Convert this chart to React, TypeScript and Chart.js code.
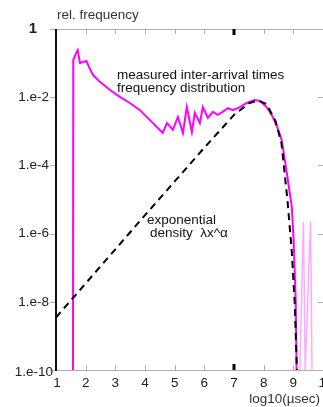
import React, { useEffect, useRef } from "react";
import { Chart, registerables } from "chart.js";

Chart.register(...registerables);

// x axis ticks (log10 of interval) and y-axis decades
const xTicks = [1, 2, 3, 4, 5, 6, 7, 8, 9, 10];
const xTickLabels = ["1", "2", "3", "4", "5", "6", "7", "8", "9", "10"];
const yTickLogs = [0, -2, -4, -6, -8, -10];
const yTickLabels = ["1", "1.e-2", "1.e-4", "1.e-6", "1.e-8", "1.e-10"];

// measured inter-arrival time frequency distribution (x, log10 freq)
const measuredX = [1.572, 1.582, 1.697, 1.731, 1.81, 1.91, 2.03, 2.11, 2.25, 2.48, 2.82, 3.15, 3.49, 3.83, 4.27, 4.5, 4.6, 4.74, 4.94, 5.11, 5.28, 5.41, 5.58, 5.68, 5.85, 5.95, 6.12, 6.29, 6.45, 6.62, 6.79, 6.96, 7.2, 7.43, 7.7, 7.87, 8.1, 8.31, 8.47, 8.61, 8.78, 8.95, 9.01, 9.08, 9.11];
const measuredLog = [-10, -0.91, -0.67, -0.62, -1.0, -0.97, -0.94, -1.11, -1.35, -1.55, -1.79, -1.99, -2.17, -2.38, -2.76, -2.96, -3.05, -2.76, -2.96, -2.58, -3.05, -2.29, -3.02, -2.46, -2.76, -2.29, -2.61, -2.43, -2.52, -2.43, -2.32, -2.38, -2.29, -2.17, -2.08, -2.11, -2.29, -2.58, -2.9, -3.26, -4.22, -5.22, -6.19, -7.95, -10];

// sparse tail spikes
const tailX = [9.22, 9.34, 9.4, 9.58, 9.63];
const tailLog = [-10, -5.65, -10, -5.65, -10];

// exponential density (dashed)
const expX = [1, 2, 3, 4, 5, 6, 7, 7.5, 7.8, 8.1, 8.4, 8.6, 8.8, 8.95, 9.05, 9.12];
const expLog = [-8.46, -7.46, -6.46, -5.46, -4.47, -3.48, -2.52, -2.18, -2.09, -2.2, -2.7, -3.35, -5.0, -6.55, -8.1, -10];

const toPts = (xs: number[], ls: number[]) => xs.map((x, i) => ({ x, y: Math.pow(10, ls[i]) }));

const FONT = "Liberation Sans, Arial, sans-serif";

const decorPlugin = {
  id: "decor",
  afterDraw(chart: any) {
    const ctx = chart.ctx as CanvasRenderingContext2D;
    const xs = chart.scales.x;
    const ys = chart.scales.y;
    const { left, right, top, bottom } = chart.chartArea;
    ctx.save();
    // frame lines (light)
    ctx.strokeStyle = "#b0b0b0";
    ctx.lineWidth = 1;
    ctx.beginPath();
    ctx.moveTo(left, top + 0.5);
    ctx.lineTo(right, top + 0.5);
    ctx.moveTo(left, bottom + 0.5);
    ctx.lineTo(right, bottom + 0.5);
    ctx.stroke();
    // x ticks top & bottom
    ctx.beginPath();
    xTicks.forEach((v) => {
      const px = Math.round(xs.getPixelForValue(v)) + 0.5;
      ctx.moveTo(px, top);
      ctx.lineTo(px, top + 5);
      ctx.moveTo(px, bottom);
      ctx.lineTo(px, bottom - 5);
    });
    // y ticks left (outside) & right (inside)
    yTickLogs.forEach((l) => {
      const py = Math.round(ys.getPixelForValue(Math.pow(10, l))) + 0.5;
      ctx.moveTo(left - 6, py);
      ctx.lineTo(left, py);
      ctx.moveTo(right - 5, py);
      ctx.lineTo(right, py);
    });
    ctx.stroke();
    // bold marks at x = 7
    ctx.fillStyle = "#000";
    const p7 = xs.getPixelForValue(7);
    ctx.fillRect(p7 - 1.5, top, 3, 6);
    ctx.fillRect(p7 - 1.5, bottom - 6, 3, 6);
    // left axis
    ctx.fillStyle = "#111";
    ctx.fillRect(left - 1, top, 2, bottom - top + 1);

    // y tick labels
    ctx.fillStyle = "#222";
    ctx.textBaseline = "middle";
    ctx.textAlign = "right";
    yTickLogs.forEach((l, i) => {
      const py = ys.getPixelForValue(Math.pow(10, l));
      const first = i === 0;
      const last = i === yTickLogs.length - 1;
      ctx.font = (first ? "bold 15px " : "13.5px ") + FONT;
      ctx.fillText(yTickLabels[i], first ? 37 : last ? left - 3 : left - 7, py + (last ? 2 : 0));
    });
    // x tick labels
    ctx.textAlign = "center";
    ctx.textBaseline = "middle";
    ctx.font = "13.5px " + FONT;
    xTicks.forEach((v, i) => {
      const px = xs.getPixelForValue(v);
      ctx.fillText(xTickLabels[i], px + (i === 0 ? 1 : i === xTicks.length - 1 ? 3 : 0), bottom + 13);
    });
    // axis titles
    ctx.fillStyle = "#333";
    ctx.textAlign = "left";
    ctx.fillText("rel. frequency", left + 1, 15);
    ctx.textAlign = "right";
    ctx.fillText("log10(µsec)", right - 3, 399);

    // annotations
    ctx.fillStyle = "#111";
    ctx.textAlign = "left";
    ctx.fillText("measured inter-arrival times", 117, 75);
    ctx.fillText("frequency distribution", 117, 88);
    ctx.fillText("exponential", 147, 220);
    ctx.fillText("density  λx^α", 150, 233);
    ctx.restore();
  },
};

export default function App() {
  const ref = useRef<HTMLCanvasElement>(null);
  useEffect(() => {
    if (!ref.current) return;
    const chart = new Chart(ref.current, {
      type: "line",
      data: {
        datasets: [
          {
            data: toPts(expX, expLog),
            borderColor: "#000",
            borderWidth: 2,
            borderDash: [7, 5],
            pointRadius: 0,
            tension: 0,
            fill: false,
            order: 0,
          },
          {
            data: toPts(measuredX, measuredLog),
            borderColor: "#ff00ff",
            borderWidth: 2,
            pointRadius: 0,
            tension: 0,
            fill: false,
            order: 1,
          },
          {
            data: toPts(tailX, tailLog),
            borderColor: "#ffa8ff",
            borderWidth: 1.5,
            pointRadius: 0,
            tension: 0,
            fill: false,
            order: 2,
          },
        ],
      },
      options: {
        animation: false,
        responsive: false,
        events: [],
        layout: { padding: { left: 56, top: 29, right: 0, bottom: 37 } },
        plugins: { legend: { display: false }, tooltip: { enabled: false } },
        scales: {
          x: { type: "linear", min: 1, max: 10, display: false },
          y: { type: "logarithmic", min: 1e-10, max: 1, display: false },
        },
      },
      plugins: [decorPlugin],
    } as any);
    return () => chart.destroy();
  }, []);
  return (
    <div style={{ position: "absolute", left: 0, top: 0, width: 323, height: 407, background: "#fff" }}>
      <canvas ref={ref} width={323} height={407} style={{ display: "block" }} />
    </div>
  );
}
